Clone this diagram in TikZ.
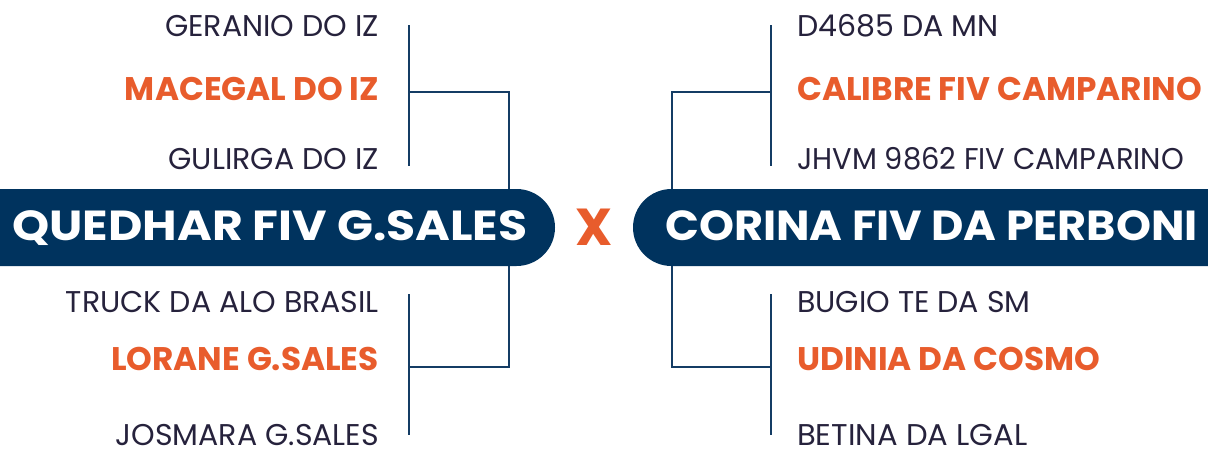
\documentclass[tikz,border=0pt]{standalone}
\usepackage{fontspec}
\setmainfont{Poppins}
\definecolor{navy}{RGB}{0,51,94}
\definecolor{lnavy}{RGB}{20,60,100}
\definecolor{orng}{RGB}{232,92,44}
\definecolor{dtext}{RGB}{38,34,60}
\begin{document}
\begin{tikzpicture}[x=1pt,y=-1pt,
  reg/.style={inner sep=0pt,text=dtext,text depth=0pt,font=\fontsize{30}{32}\selectfont},
  hi/.style={inner sep=0pt,text=orng,text depth=0pt,font=\fontsize{32.7}{34}\selectfont\bfseries},
  ban/.style={inner sep=0pt,text=white,font=\fontsize{42}{44}\selectfont\bfseries},
  brk/.style={draw=lnavy,line width=2pt}]
\useasboundingbox (0,0) rectangle (1208,450);
% left texts
\node[reg,anchor=base east] (l1) at (379,36) {GERANIO DO IZ};
\node[hi,anchor=base east] (l2) at (379,100) {MACEGAL DO IZ};
\node[reg,anchor=base east] (l3) at (379,169) {GULIRGA DO IZ};
\node[reg,anchor=base east] (l4) at (379,312) {TRUCK DA ALO BRASIL};
\node[hi,anchor=base east] (l5) at (379,370) {LORANE G.SALES};
\node[reg,anchor=base east] (l6) at (379,445) {JOSMARA G.SALES};
% right texts
\node[reg,anchor=base west] (r1) at (797,36) {D4685 DA MN};
\node[hi,anchor=base west] (r2) at (797,100) {CALIBRE FIV CAMPARINO};
\node[reg,anchor=base west] (r3) at (797,169) {\scalebox{0.965}[1]{JHVM 9862 FIV CAMPARINO}};
\node[reg,anchor=base west] (r4) at (797,312) {BUGIO TE DA SM};
\node[hi,anchor=base west] (r5) at (797,370) {UDINIA DA COSMO};
\node[reg,anchor=base west] (r6) at (797,445) {\scalebox{1.02}[1]{BETINA DA LGAL}};
% bracket coordinates
\coordinate (lt1) at (409,25); \coordinate (lt2) at (409,166);
\coordinate (ltm) at (409,92); \coordinate (lo1) at (509,92);
\coordinate (lo2) at (509,367); \coordinate (lbm) at (409,367);
\coordinate (lb1) at (409,294); \coordinate (lb2) at (409,435);
\coordinate (rt1) at (771,25); \coordinate (rt2) at (771,166);
\coordinate (rtm) at (771,92); \coordinate (ro1) at (672,92);
\coordinate (ro2) at (672,367); \coordinate (rbm) at (771,367);
\coordinate (rb1) at (771,294); \coordinate (rb2) at (771,435);
\draw[brk] (lt1) -- (lt2);
\draw[brk] (lb1) -- (lb2);
\draw[brk] (ltm) -- (lo1) -- (lo2) -- (lbm);
\draw[brk] (rt1) -- (rt2);
\draw[brk] (rb1) -- (rb2);
\draw[brk] (rtm) -- (ro1) -- (ro2) -- (rbm);
% banners
\fill[navy] (0,189) -- (516.5,189) arc[start angle=-90,end angle=90,radius=38.5] -- (0,266) -- cycle;
\fill[navy] (1208,189) -- (671.5,189) arc[start angle=270,end angle=90,radius=38.5] -- (1208,266) -- cycle;
\node[ban,anchor=base west] (sire) at (12,240) {\scalebox{1.125}[1]{QUEDHAR FIV G.SALES}};
\node[ban,anchor=base west] (dam) at (665,240) {\scalebox{1.06}[1]{CORINA FIV DA PERBONI}};
\node[inner sep=0pt,text=orng,font=\fontsize{52}{54}\selectfont\bfseries,anchor=base] (x) at (594,245) {X};
\end{tikzpicture}
\end{document}
